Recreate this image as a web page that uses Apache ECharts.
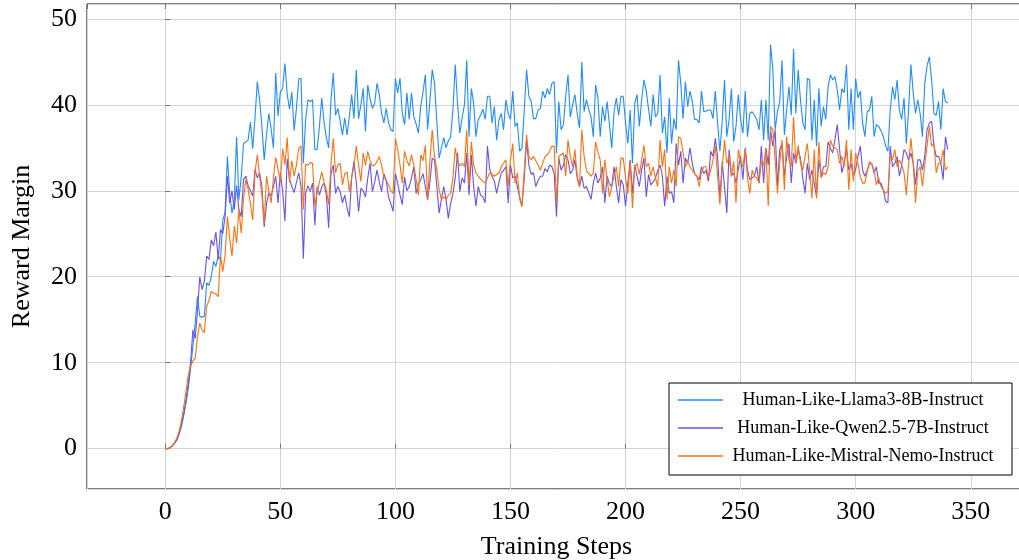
<!DOCTYPE html>
<html>
<head>
<meta charset="utf-8">
<script src="https://cdn.jsdelivr.net/npm/echarts@6/dist/echarts.min.js"></script>
<style>
html,body{margin:0;padding:0;background:#fff;}
#chart{width:1019px;height:560px;}
</style>
</head>
<body>
<div id="chart"></div>
<script>
const seriesNames = ['Human-Like-Llama3-8B-Instruct','Human-Like-Qwen2.5-7B-Instruct','Human-Like-Mistral-Nemo-Instruct'];
const xTicks = [0,50,100,150,200,250,300,350];
const yTicks = [0,10,20,30,40,50];

const llama = [
0,0,0.1,0.3,0.6,1.0,1.7,2.6,3.8,5.3,
7.0,9.3,11.9,14.6,17.7,15.4,15.3,15.4,19.3,19.0,
20.0,21.8,21.2,22.4,22.0,26.6,27.5,34.0,29.7,27.4,
28.9,36.3,29.0,31.5,35.5,35.7,35.9,38.0,34.9,38.5,
42.7,40.6,37.5,33.6,36.5,39.0,37.2,35.0,43.7,38.7,
41.5,41.9,44.8,41.2,39.5,41.5,37.0,39.6,43.0,43.1,
33.2,38.3,40.6,40.4,40.6,34.8,34.8,37.5,40.8,38.0,
36.2,35.0,40.5,43.7,38.8,39.6,38.1,36.5,38.5,36.5,
38.7,41.2,38.4,44.1,38.4,40.0,41.9,36.9,42.3,40.7,
39.6,40.2,42.5,41.2,39.0,37.9,39.6,38.0,37.1,36.9,
43.1,41.4,43.1,39.0,37.7,41.4,38.3,41.4,38.6,37.8,
36.7,39.8,41.5,43.5,37.1,40.5,44.1,42.5,38.0,33.8,
35.0,36.2,35.0,35.8,36.3,39.5,44.7,40.2,36.7,38.5,
40.0,45.2,36.3,41.9,40.2,36.3,38.3,38.8,39.5,38.3,
41.0,41.0,37.9,39.8,35.9,38.3,39.0,37.1,40.6,39.0,
38.3,41.6,37.5,37.9,34.6,35.0,39.5,44.1,41.0,40.4,
38.4,38.4,39.4,39.6,41.6,40.8,41.9,41.2,42.5,42.7,
34.4,40.4,37.1,37.7,41.0,43.5,38.6,40.0,41.2,39.0,
37.3,45.0,39.2,40.6,39.5,38.6,36.3,42.3,40.8,36.3,
39.8,38.1,40.4,37.7,35.0,39.2,40.8,38.8,41.0,41.0,
37.9,35.5,39.4,33.2,40.2,41.2,37.5,40.6,42.9,41.6,
39.5,37.5,41.2,38.6,39.0,43.5,36.7,38.6,34.4,40.8,
35.5,38.4,37.1,45.2,42.5,38.4,42.7,39.8,41.6,40.4,
38.3,38.3,37.9,41.6,39.2,39.3,39.4,39.4,38.4,41.6,
37.9,34.6,38.1,42.9,36.3,38.3,41.9,35.7,37.5,41.2,
38.3,36.7,41.6,36.3,39.0,39.2,38.8,38.3,37.1,40.6,
35.9,40.6,35.9,47.0,44.1,37.1,39.2,40.4,45.2,36.5,
39.4,42.1,38.8,46.5,39.0,44.1,40.6,38.0,37.1,43.1,
42.9,35.9,40.6,35.2,41.9,37.5,39.8,38.3,42.1,43.5,
42.9,43.3,41.7,39.4,41.9,41.4,44.7,37.1,41.9,37.1,
43.1,40.8,41.6,37.9,36.3,39.2,39.4,41.0,36.3,37.7,
37.5,37.0,36.3,35.2,34.6,39.4,42.1,40.6,42.9,39.4,
38.3,40.8,35.5,39.4,44.7,41.4,39.0,40.6,39.0,36.3,
42.5,44.5,45.6,42.9,39.0,38.8,40.4,37.1,41.9,40.4,
40.2
];

const qwen = [
0,0,0.1,0.3,0.6,1.0,1.7,2.7,4.0,5.6,
7.6,10.0,13.8,12.8,16.0,20.0,18.5,19.5,22.4,22.0,
24.3,23.6,25.2,22.0,25.5,25.0,27.0,31.7,28.6,30.0,
27.8,30.6,27.8,27.0,31.3,31.7,30.6,30.0,29.4,32.5,
31.5,32.1,30.5,25.8,28.5,29.8,29.4,30.5,31.7,28.6,
32.1,30.0,26.5,33.7,31.3,30.5,29.8,31.0,32.1,30.5,
22.1,29.7,30.6,29.9,30.9,26.0,30.5,29.5,30.5,30.9,
29.5,25.7,32.0,33.0,29.7,30.5,29.9,28.6,29.5,28.0,
27.0,31.6,33.4,31.0,27.6,30.3,30.0,29.3,31.5,33.2,
29.9,31.0,32.4,31.0,29.9,32.0,31.2,29.3,28.5,27.6,
32.0,30.9,29.5,28.4,31.6,30.0,30.5,31.5,32.8,29.7,
30.8,31.3,32.0,30.5,28.9,31.0,33.8,33.6,30.5,27.4,
29.0,30.5,29.0,26.8,28.5,29.7,31.5,34.4,29.9,31.5,
30.9,34.4,29.5,34.2,30.5,28.2,30.5,29.5,29.3,28.6,
35.2,32.5,31.7,31.1,29.7,31.0,32.1,32.4,32.8,28.6,
33.0,31.5,31.7,30.5,29.3,28.2,31.5,35.9,33.0,31.9,
32.1,30.5,31.2,31.7,31.7,32.6,32.2,33.0,32.8,32.0,
27.0,33.8,32.4,33.0,34.2,33.6,32.0,32.4,33.6,31.5,
30.5,31.7,30.3,30.5,29.8,29.0,30.9,32.1,30.9,31.5,
32.8,28.6,31.7,30.8,30.5,32.8,30.5,28.6,31.3,30.7,
28.2,30.9,33.6,29.7,33.0,31.7,30.5,32.5,33.8,29.3,
31.9,30.7,31.0,31.5,32.4,33.0,31.7,28.2,31.7,29.7,
29.9,28.6,35.5,33.0,34.6,30.9,33.8,33.2,35.0,33.2,
32.0,31.7,31.3,32.8,32.0,32.4,31.1,34.6,34.0,36.1,
34.0,29.1,33.4,30.5,27.4,34.8,31.7,32.1,30.9,32.5,
34.0,31.3,35.0,32.4,31.3,31.5,31.7,32.8,30.9,35.2,
30.9,35.0,33.0,37.1,35.2,37.1,30.5,34.8,35.5,31.7,
34.0,35.5,30.9,34.4,33.2,34.8,33.8,31.5,29.7,33.2,
31.3,32.4,30.9,29.3,33.6,31.7,32.8,32.8,35.7,35.0,
34.4,36.0,37.7,34.8,32.1,33.2,34.8,32.4,33.2,31.7,
32.5,34.0,35.2,32.4,31.7,32.4,33.2,33.2,32.1,32.8,
30.9,30.9,30.1,28.8,28.6,35.2,32.8,33.2,34.0,31.7,
33.0,34.8,34.4,33.6,34.4,33.2,30.7,33.6,33.6,32.4,
34.0,37.1,37.9,38.1,35.2,34.0,34.0,33.2,31.3,36.3,
34.8
];

const mistral = [
0,0,0.1,0.3,0.7,1.2,2.0,3.2,4.8,6.6,
8.5,9.6,10.2,10.5,13.0,14.6,13.8,13.5,16.6,17.2,
18.3,18.1,18.0,17.7,22.4,20.6,22.5,27.0,24.5,22.4,
25.9,23.9,27.8,25.1,29.0,31.3,30.2,28.5,26.6,32.1,
34.2,31.7,29.5,26.2,31.7,30.0,28.6,31.5,33.9,32.5,
31.0,34.9,33.0,36.2,31.0,33.5,31.7,33.0,34.9,35.2,
27.8,33.1,33.0,33.3,33.2,28.2,29.9,31.0,32.2,31.0,
30.1,28.4,33.0,36.1,32.1,33.0,33.2,30.7,32.0,32.2,
29.9,31.5,32.9,35.2,33.0,31.1,34.4,33.0,34.6,33.5,
32.9,33.0,33.4,34.0,33.0,31.6,31.2,30.7,30.0,29.7,
36.1,34.8,33.0,30.9,34.6,33.5,32.9,34.2,33.0,31.3,
29.5,34.2,33.5,35.3,29.0,33.5,37.1,34.0,32.5,30.1,
29.0,29.3,29.0,29.5,29.7,31.5,35.0,33.5,32.9,33.2,
32.8,37.1,30.6,35.7,33.0,32.1,31.7,31.4,31.1,30.9,
31.5,32.1,31.9,31.7,31.9,32.1,32.8,33.2,33.6,30.5,
33.6,35.5,30.9,32.1,29.0,28.2,32.4,36.5,34.0,33.6,
34.0,33.5,33.0,32.4,33.2,34.0,34.2,34.6,35.2,35.2,
28.6,34.0,34.2,34.4,31.7,35.9,34.0,32.8,34.8,31.7,
30.5,37.1,34.0,32.4,32.0,31.7,32.1,35.7,34.5,33.6,
29.7,33.6,31.3,29.3,30.5,31.7,32.8,30.5,33.8,33.8,
31.5,29.7,33.4,28.0,32.8,33.2,31.9,33.6,35.3,32.8,
33.2,31.7,32.8,31.5,30.5,35.9,32.8,34.8,29.0,32.8,
30.9,32.4,30.5,36.3,36.1,34.4,32.8,33.4,32.8,32.4,
32.0,31.7,30.5,32.2,32.8,32.8,31.5,32.4,33.5,35.2,
31.7,28.4,32.6,35.9,33.2,34.0,31.7,33.4,28.6,34.8,
33.4,32.8,34.8,31.5,29.7,32.4,31.7,31.5,30.9,33.4,
33.0,34.8,28.2,37.5,37.1,33.6,29.7,33.2,35.9,30.1,
36.3,33.6,32.8,38.6,33.2,35.3,33.2,32.4,34.0,35.5,
32.4,29.1,34.8,29.1,35.7,31.5,32.1,31.9,32.8,35.9,
35.2,35.0,34.8,33.2,34.0,32.8,35.9,30.1,34.8,31.1,
34.4,33.2,31.7,30.9,30.9,32.2,33.4,33.0,32.4,30.7,
31.5,30.5,30.1,29.7,29.9,34.0,33.6,34.8,32.8,33.6,
33.0,32.1,29.5,33.2,36.1,33.2,28.6,32.4,32.8,30.5,
33.0,35.2,37.5,35.2,35.5,32.1,33.2,33.2,34.8,32.4,
32.8
];

const colors = ['#1E8CFF','#6A50E8','#FF6F0A'];
const serif = '"Liberation Serif", "Times New Roman", serif';
const toPairs = arr => arr.map((v, i) => [i, v]);

const tickStyle = {show: true, inside: true, length: 5, lineStyle: {color: '#777'}};
const labelBase = {fontFamily: serif, fontSize: 26, color: '#000', showMinLabel: false, showMaxLabel: false};

const chart = echarts.init(document.getElementById('chart'), null, {renderer: 'canvas'});
chart.setOption({
  animation: false,
  backgroundColor: '#fff',
  grid: {left: 87, top: 4, right: -7, bottom: 71, containLabel: false, outerBoundsMode: 'none',
         show: true, borderColor: '#000', borderWidth: 1, backgroundColor: 'transparent'},
  xAxis: [{
    type: 'value', min: -34, max: 374, minInterval: 50, maxInterval: 50,
    name: 'Training Steps', nameLocation: 'middle', nameGap: 45,
    nameTextStyle: {fontFamily: serif, fontSize: 26, color: '#000'},
    axisLine: {show: false},
    axisTick: tickStyle,
    axisLabel: Object.assign({margin: 10, formatter: v => xTicks.indexOf(v) >= 0 ? String(v) : ''}, labelBase),
    splitLine: {show: true, lineStyle: {color: '#d4d4d4', width: 1}}
  }, {
    type: 'value', position: 'top', min: -34, max: 374, minInterval: 50, maxInterval: 50,
    axisLine: {show: false}, axisTick: tickStyle, axisLabel: {show: false}, splitLine: {show: false}
  }],
  yAxis: {
    type: 'value', min: -4.7, max: 51.74, minInterval: 10, maxInterval: 10,
    name: 'Reward Margin', nameLocation: 'middle', nameGap: 52,
    nameTextStyle: {fontFamily: serif, fontSize: 26, color: '#000'},
    axisLine: {show: false},
    axisTick: tickStyle,
    axisLabel: Object.assign({margin: 10, formatter: v => yTicks.indexOf(v) >= 0 ? String(v) : ''}, labelBase),
    splitLine: {show: true, lineStyle: {color: '#d4d4d4', width: 1}}
  },
  legend: {
    data: seriesNames,
    orient: 'vertical',
    left: 669, top: 383,
    padding: [8, 14, 10, 9],
    itemGap: 10,
    icon: 'rect',
    itemWidth: 45, itemHeight: 1.3,
    borderColor: '#000', borderWidth: 1, backgroundColor: '#fff',
    formatter: n => '{c|' + n + '}',
    textStyle: {
      fontFamily: serif, fontSize: 18, color: '#000', lineHeight: 18,
      rich: {c: {width: 270, align: 'center', fontFamily: serif, fontSize: 18, color: '#000', lineHeight: 18}}
    }
  },
  series: [
    {name: seriesNames[0], type: 'line', data: toPairs(llama), showSymbol: false, symbol: 'none', color: colors[0], lineStyle: {width: 1.1, color: colors[0]}, z: 2},
    {name: seriesNames[1], type: 'line', data: toPairs(qwen), showSymbol: false, symbol: 'none', color: colors[1], lineStyle: {width: 1.1, color: colors[1]}, z: 3},
    {name: seriesNames[2], type: 'line', data: toPairs(mistral), showSymbol: false, symbol: 'none', color: colors[2], lineStyle: {width: 1.1, color: colors[2]}, z: 4}
  ]
});
</script>
</body>
</html>
